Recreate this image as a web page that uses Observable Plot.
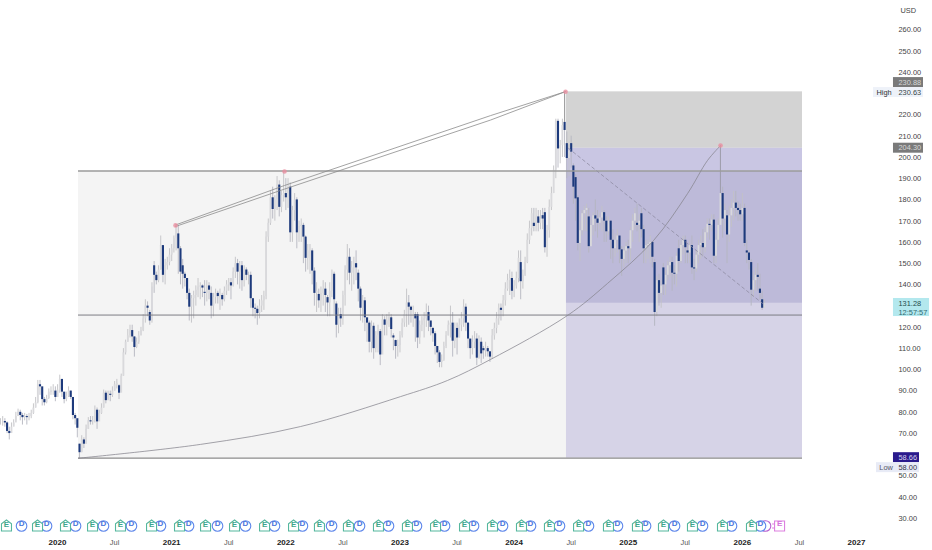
<!DOCTYPE html>
<html>
<head>
<meta charset="utf-8">
<script src="https://cdn.jsdelivr.net/npm/d3@7"></script>
<script src="https://cdn.jsdelivr.net/npm/@observablehq/plot@0.6"></script>
<style>html,body{margin:0;padding:0;background:#fff}svg{display:block}</style>
</head>
<body>
<div id="chart"></div>
<script>
// weekly candles, price in USD, first week mid-2019
const firstYear = 2019.5006, weekYears = 0.01923;
const closes = [
75.7,75.7,75,71,70,73,75,78,80,78.5,
77.5,78,77.5,78,79.5,82,84.5,93,92,86,
84.5,86.5,89.5,90,90,87,90.5,95.5,89.5,86,
87.5,90,87,78.5,77,72.5,61,67,65,72,
76,75.5,76,81,75.5,79.5,82,89,85.5,88.5,
88,90,93,93.5,89,97,108,113,116,118.5,
115.5,110.5,113,116,118.5,124,130,129,123,139,
144.5,142,147,158.5,144.5,149,150.5,154,157,162,
166.5,157,146,145,143,136,129.5,133.5,135,137.5,
139,139.5,138.5,136,139.5,137.5,130,134,136,134.5,
135,133,137,140,141,139.5,146,150,146,149,
142,147,144.5,144.5,133.5,129,128.5,126.5,130,132.5,
134.5,162.5,169,181,175.5,180,187,176.5,182,183,
181,186,164.5,175,180,164.5,167.5,168,162.5,152.5,
156,156,146.5,136,137,132.5,136,138,135,131.5,
137,145,133,121,126,124,135,147,153,145.5,
148,150,148,138,129,132.5,124.5,122,113,120.5,
110,116,118,107,123.5,121,123,124.5,119,115,
111,111.5,116,122,126,131.5,129.5,128,128,124,
115,121,123,124,127,123,120,117,111,108,
103.5,104.5,111,116,121,122,113.5,119.5,115,121,
124,129.5,122,114.5,110,113,114.5,105.5,113,107.5,
109,110,108.5,106,116,119.5,124,129,128,132.5,
138,142,143,137,139.5,143,152.5,141.5,144.5,150.5,
161,166.5,173.5,167.5,172,169,171,171,157.5,165.5,
176.5,183,194,217,204,205.5,215,212.7,199.5,203,
202.5,186,180.5,159.5,165.5,173.5,175,176,158,168,
172.5,171,169,171.5,174,170,165,170,161,157,
161,163,156.5,152,156,158,157,165.5,170,173.5,
168,170,166,157,158.5,159,160,153,127,142,
136,139.5,140,144.5,149,150.5,145.5,145,153.5,151,
158.5,161,157.5,155,158.5,148,147.5,154,158.5,159.5,
157.5,164.5,168.5,168,170.5,153.5,161,168,183,171,
175,163.5,172.5,176,178.5,176,175,173,176,159.5,
155,151.5,137.5,142,144.5,143.5,136,129,131.28];
const highs = [
77,78,77,75.5,73,75,76.5,80,81.5,81,
79.5,79.5,79,79.5,81,84,87,95,95,91,
87,88,91,92,93,92,93,97.5,91,88.5,
89.5,92,90,84,79.5,74,65,69,68,74,
77.5,78,78,83,82,81,84,90.5,90,90,
90,92,94.5,95.5,93,98,110,114,119,121,
121,115.5,115,118,120,126,133,132,128,141,
151,146,149,163,158.5,152,153,157,159,163,
168,168,158,152,146,143,138,135,137,139.5,
143,141,140,142,142,141,139,136,138,137,
138,136,139,142,143,143,148,153,152,151,
151,149,148,146,146,133,131,130,133,135,
137,165,171,184,186,182,191,189,184,193.4,
190,190,188,177,183,181,170,171,169,163,
159,159,157,148,141,138,139,142,141,135,
141,147,146,132,129,129,137,149,159,157,
151,153,156,147,139,135,134,124,123,123,
122,118,121,119,126,125,126,127,126,117,
114,114,118,124,128,138,135,130,130,127,
127,123,125,127,131,130,122,120,118,111,
109,107,113,118,123,130,127,122,122,124,
127,133,131,122,114,116,118,117,116,115,
111,113,111,108,119,122,127,131,131,135,
141,145,147,146,142,146,156,156,147,153,
164,170,176,176,176,175,175,176,176,168,
180,186,196,218,218,208,218,230.63,212,206,
210,197,192,182,170,175,177,178,176,171,
174,180,175,174,177,175,172,172,170,166,
164,166,161,158,158,160,161,167,173,176,
178,173,176,168,161,161,163,158,152,144,
145,142,150,147,151,153,153,149,155,161,
161,163,163,159,161,163,152,156,161,163,
166,167,171,171,173,173,164,171,205,186,
178,175,177,180,184,184,179,178,183,178,
161,156,152,146,148,150,145,137,133];
const lows = [
74,73.5,73,70,67,70.5,73.5,76,78,76,
74,76,74,76,77,79,82,84,88,83,
83,84,86,88,88,85,87,89,87,84,
85,87,86,76.5,74,68,58,61,63,65,
72,74,74,75,72,77,79,82,84,86,
85,87,90,91,86,90,97,107,113,115,
113,106,110,112,116,118,122,125,121,122,
136,140,141,147,141,140,147,149,151,155,
156,145,140,138,139,133,123,122,124,130,
134,133,134,130,132,133,124,125,131,131,
128,130,132,135,137,133,139,143,140,138,
137,139,142,140,129,125,124,121,124,127,
128,133,160,168,171,170,175,172,174,179,
175,176,160,160,170,157,160,160,150,146,
147,145,140,130,127,129,127,130,127,125,
125,134,126,115,117,120,121,130,142,140,
137,140,142,132,123,122,118,113,108,108,
105,108,108,102,108,116,116,120,115,109,
105,106,108,115,120,120,121,122,120,113,
110,112,118,115,120,118,116,113,107,103,
101,101,104,110,116,115,106,110,107,115,
118,120,118,110,105,107,110,102,105,103,
105,106,106,103.5,105,114,117,121,123,125,
130,137,135,133,134,138,141,133,138,144,
150,159,163,165,165,165,166,166,155,153,
162,175,183,190,195,197,200,200,190,191,
195,178,170,156,151,163,165,165,155,159,
163,165,162,166,165,160,160,163,152,150,
153,155,150,144,148,150,150,151,160,166,
165,160,162,150,150,152,150,148,120.5,125,
130,129,135,135,142,143,137,140,139,146,
150,154,150,150,150,145,142,146,150,152,
153,155,162,161,165,150,150,158,170,162,
165,150,160,167,170,172,170,170,170,158,
150,147,130,134,137,137,133,128,129];
// weeks whose open differs from the previous close
const gapWeeks = [36,48,54,68,70,81,83,93,96,145,149,153,163,179,180,189,190,197,220,237,243,247,248,257,258,260,261,262,263,268,290,292,298,302,309,313,331,340,342,346,347];
const gapOpens = [65,89,92.5,127,149,164,149,136.5,136,135.5,134,131,145.5,116,113.8,126,126,119.5,110,150.5,169,172.6,174,216.5,206.5,206.5,196,190.5,181,172,169,173.5,150.5,148,157,156,172.5,156,150.5,138,133];

const priceTicks = [30,40,50,70,80,90,100,110,120,140,150,160,170,180,190,200,210,220,240,250,260];
const yearTicks = [2020,2021,2022,2023,2024,2025,2026,2027];
const julTicks = [2020.5,2021.5,2022.5,2023.5,2024.5,2025.5,2026.5];

const earningsE = [2019.553,2019.825,2020.070,2020.307,2020.552,2020.824,2021.069,2021.297,2021.551,2021.814,2022.068,2022.295,2022.549,2022.812,2023.066,2023.312,2023.566,2023.811,2024.065,2024.310,2024.565,2024.827,2025.081,2025.309,2025.563,2025.826,2026.080];
const dividendD = [2019.685,2019.904,2020.158,2020.403,2020.648,2020.902,2021.148,2021.402,2021.647,2021.901,2022.146,2022.401,2022.646,2022.900,2023.145,2023.391,2023.645,2023.899,2024.144,2024.398,2024.652,2024.906,2025.152,2025.406,2025.651,2025.905,2026.159];
const splitNext = [2026.203];
const earningsNext = [2026.326];

// annotation drawings (year, price)
const leftYear = 2020.184, midYear = 2024.459, rightYear = 2026.527;
const topLevel = 193.6, midLevel = 125.8, lowLevel = 58.4;
const curveYears = [2020.184,2021.253,2022.129,2023.005,2023.417,2023.794,2024.468,2024.819,2025.222,2025.520,2025.695,2025.809];
const curvePrices = [58.4,64.9,73.3,87.4,95,104.9,125.6,140.7,160.9,183,198.6,205.6];
const upperYears = [2021.034,2021.989,2023.794,2024.451];
const upperPrices = [168.2,186.8,219.7,231];
const lowerPrices = [167.5,185.1,217.6,231];
const pivotYears = [2021.034,2021.989,2024.451,2025.809];
const pivotPrices = [168,193.4,230.9,205.6];

const bars = closes.map((c,i)=>{
  const g = gapWeeks.indexOf(i);
  const o = g>=0 ? gapOpens[g] : (i>0 ? closes[i-1] : c);
  return {x:firstYear+i*weekYears, o, c, h:highs[i], l:lows[i]};
});
const upBars = bars.filter(b=>b.c>=b.o), downBars = bars.filter(b=>b.c<b.o);

const house = {draw(ctx,size){
  const r=Math.sqrt(size/Math.PI);
  ctx.moveTo(0,-r*1.2); ctx.lineTo(r,-r*0.45); ctx.lineTo(r,r); ctx.lineTo(-r,r); ctx.lineTo(-r,-r*0.45); ctx.closePath();
}};
const roundSquare = {draw(ctx,size){
  const r=Math.sqrt(size/Math.PI);
  ctx.rect(-r,-r,2*r,2*r);
  ctx.moveTo(-r,-r*0.4); ctx.lineTo(-r-2.5,-r*0.4);
  ctx.moveTo(-r,r*0.4); ctx.lineTo(-r-2.5,r*0.4);
}};
const rowDy = -10.5;
const tagX = 2027.324, tagTextX = 2027.368;
const rect = (x1,x2,y1,y2,fill)=>Plot.rect([{x1,x2,y1,y2}],{x1:"x1",x2:"x2",y1:"y1",y2:"y2",fill});
const txt = (t,x,y,fill,extra={})=>Plot.text([t],{x:()=>x,y:()=>y,text:d=>d,fill,textAnchor:"start",...extra});
const hline = (y,w,s)=>Plot.ruleY([y],{x1:leftYear,x2:rightYear,stroke:s,strokeWidth:w});

const chart = Plot.plot({
  width:932, height:550,
  marginLeft:0, marginRight:62, marginTop:0, marginBottom:14,
  style:{fontFamily:"'Liberation Sans',sans-serif",fontSize:"7.4px",background:"#fff",color:"#333"},
  x:{type:"linear",domain:[2019.5006,2027.1227],label:null},
  y:{type:"linear",domain:[21.54,273.89],label:null},
  marks:[
    rect(leftYear,midYear,lowLevel,topLevel,"#f4f4f4"),
    rect(midYear,rightYear,204.3,230.88,"#d3d3d3"),
    rect(midYear,rightYear,193.6,204.3,"#c9c6e3"),
    rect(midYear,rightYear,131.28,193.6,"#bdbad9"),
    rect(midYear,rightYear,lowLevel,131.28,"#d6d3e7"),
    Plot.ruleX(upBars,{x:"x",y1:"l",y2:"h",stroke:"#c2c2c5",strokeWidth:0.9}),
    Plot.ruleX(downBars,{x:"x",y1:"l",y2:"h",stroke:"#b4b6c0",strokeWidth:0.9}),
    Plot.ruleX(upBars,{x:"x",y1:"o",y2:"c",stroke:"#d9d9dc",strokeWidth:1.8}),
    Plot.ruleX(downBars,{x:"x",y1:"o",y2:"c",stroke:"#1d3a7c",strokeWidth:2.1}),
    Plot.ruleX([firstYear+328*weekYears],{y1:183,y2:205.6,stroke:"#9a98a8",strokeWidth:0.9}),
    Plot.ruleX([firstYear+257*weekYears],{y1:216.5,y2:230.63,stroke:"#999",strokeWidth:0.9}),
    hline(topLevel,1.4,"#9b9b9b"),
    hline(midLevel,1,"#7d7c84"),
    hline(lowLevel,1.2,"#8b8b8b"),
    Plot.line(curveYears.map((x,i)=>({x,y:curvePrices[i]})),{x:"x",y:"y",curve:"catmull-rom",stroke:"#86848e",strokeWidth:0.75}),
    Plot.line(upperYears.map((x,i)=>({x,y:upperPrices[i]})),{x:"x",y:"y",stroke:"#8b8b8b",strokeWidth:0.8}),
    Plot.line(upperYears.map((x,i)=>({x,y:lowerPrices[i]})),{x:"x",y:"y",stroke:"#8b8b8b",strokeWidth:0.8}),
    Plot.line([{x:2024.477,y:204.3},{x:2026.177,y:131.28}],{x:"x",y:"y",stroke:"#8f8da3",strokeWidth:0.8,strokeDasharray:"3,3"}),
    Plot.dot(pivotYears.map((x,i)=>({x,y:pivotPrices[i]})),{x:"x",y:"y",r:2.3,fill:"#ea8fa0",fillOpacity:0.8}),

    // event row
    Plot.dot(splitNext,{x:d=>d,frameAnchor:"bottom",dy:rowDy,r:5.3,fill:"#fff",stroke:"#b85fd0",strokeWidth:1.1}),
    Plot.dot(dividendD,{x:d=>d,frameAnchor:"bottom",dy:rowDy,r:5.3,fill:"#fff",stroke:"#5d86ea",strokeWidth:1.1}),
    Plot.text(dividendD,{x:d=>d,frameAnchor:"bottom",dy:rowDy,text:()=>"D",fill:"#4a74dc",fontSize:8,fontWeight:"bold"}),
    Plot.dot(earningsE,{x:d=>d,frameAnchor:"bottom",dy:rowDy,r:5,symbol:house,fill:"#fff",stroke:"#55b79e",strokeWidth:1.1}),
    Plot.text(earningsE,{x:d=>d,frameAnchor:"bottom",dy:rowDy+0.5,text:()=>"E",fill:"#3ea78c",fontSize:8,fontWeight:"bold"}),
    Plot.dot(earningsNext,{x:d=>d,frameAnchor:"bottom",dy:rowDy,r:5,symbol:roundSquare,fill:"#fff",stroke:"#dd80e0",strokeWidth:1.1}),
    Plot.text(earningsNext,{x:d=>d,frameAnchor:"bottom",dy:rowDy,text:()=>"E",fill:"#d66fdc",fontSize:8,fontWeight:"bold"}),

    // axes
    Plot.axisY({anchor:"right",ticks:priceTicks,tickSize:0,tickPadding:28,tickFormat:d=>d.toFixed(2),label:null,fill:"#444"}),
    Plot.axisX({ticks:yearTicks,tickSize:0,tickPadding:3,tickFormat:d=>String(d),label:null,fontWeight:"bold",fontSize:8,fill:"#222"}),
    Plot.axisX({ticks:julTicks,tickSize:0,tickPadding:3,tickFormat:()=>"Jul",label:null,fontSize:7.4,fill:"#555"}),
    txt("USD",2027.385,269.2,"#444"),

    // price tags
    rect(tagX,2027.587,232.9,237.6,"#7a7a7a"),
    txt("230.88",tagTextX,235.3,"#d8d8d8"),
    rect(2027.149,2027.587,228.2,232.9,"#eef2f9"),
    txt("High",2027.175,230.7,"#333"),
    txt("230.63",tagTextX,230.7,"#344"),
    rect(tagX,2027.587,202,206.7,"#7a7a7a"),
    txt("204.30",tagTextX,204.4,"#d8d8d8"),
    rect(tagX,2027.64,125.1,133.6,"#b3e8ee"),
    txt("131.28",tagTextX,131.2,"#1f4a4c"),
    txt("12:57:57",tagTextX,127,"#2f6a70"),
    rect(tagX,2027.552,56.3,61,"#2a1a8c"),
    txt("58.66",tagTextX,58.7,"#d8d4f0"),
    rect(2027.175,2027.552,51.6,56.3,"#e8ebf6"),
    txt("Low",2027.2,54,"#556"),
    txt("58.00",tagTextX,54,"#334")
  ]
});
document.getElementById("chart").append(chart);
</script>
</body>
</html>
